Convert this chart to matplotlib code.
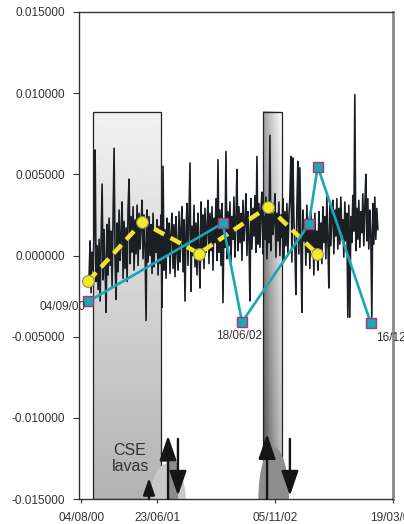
import numpy as np
import pandas as pd
import matplotlib
matplotlib.use('Agg')
import matplotlib.pyplot as plt
import matplotlib.dates as mdates
from matplotlib.patches import Rectangle, Ellipse

plt.rcParams['font.family'] = ['Liberation Sans', 'DejaVu Sans']

# raw signal (units of 1e-3) left to right
noise_start = '2000-09-07'
noise_end = '2004-01-15'
noise_vals = [
    -1.2, 0.9, -2.3, 0.2, -0.9, 1.4, 6.5, -1.6, 0.6, -2.1,
    1.0, -2.8, 0.8, 4.4, -1.5, 1.6, -0.8, -3.5, 1.9, -1.2,
    2.3, -0.6, 1.5, -1.9, 2.6, 6.6, -0.4, -2.7, 2.0, -1.0,
    2.8, -0.3, 1.2, 3.3, -1.4, 2.1, -0.8, 1.7, -1.6, 2.9,
    4.7, -0.5, 2.4, 0.2, 3.0, -0.9, 2.2, 0.1, 3.1, -0.6,
    2.6, 0.4, 1.8, 3.4, -0.2, 2.5, 0.6, -4.0, 2.8, -0.4,
    2.4, 0.0, 1.9, -1.1, 2.6, -0.7, 1.5, 0.2, 2.2, -1.2,
    1.8, -0.5, 2.5, -3.2, 5.5, -0.9, 1.6, -1.4, 2.3, 0.0,
    2.0, -1.1, 1.4, 2.6, -0.8, 1.9, -1.3, 2.4, 0.3, -0.9,
    2.7, -0.4, 1.6, 3.0, -1.0, 2.2, -2.8, 1.5, 3.2, -0.6,
    2.4, 5.7, -2.2, 1.8, 0.0, 3.1, -0.7, 2.0, -1.2, 2.6,
    0.1, -2.0, 3.3, 0.4, 2.5, -0.8, 2.9, 0.2, 1.7, 3.4,
    -0.5, 2.6, 0.3, 3.0, -0.9, 2.3, 0.8, 3.5, -0.3, 5.9,
    0.2, 2.8, -0.6, 3.2, -2.9, 2.1, 0.5, 6.4, -0.2, 2.7,
    0.6, 3.3, -0.4, 2.4, 1.0, 3.6, -0.1, 2.2, 5.3, 0.3,
    3.0, 0.8, 2.6, -0.3, 3.4, 0.9, 2.1, 3.8, 0.0, 2.7,
    1.1, -2.8, 3.5, 0.4, 2.9, 1.2, 3.7, 0.2, 6.1, 0.7,
    3.2, 0.5, 2.8, 3.9, 0.1, 2.4, 1.0, 3.6, -0.2, 2.9,
    0.8, 7.4, 0.3, 3.1, 1.3, 2.2, 3.8, -0.1, 2.6, 0.9,
    3.3, 0.0, 2.5, 1.1, 3.5, -0.3, 2.7, 0.6, 3.2, 0.2,
    2.4, 3.6, 6.1, -0.4, 6.0, 2.2, 0.5, -2.4, 3.0, 5.8,
    0.1, 5.4, 0.6, -3.5, 2.8, 0.9, 2.0, -0.6, 3.1, 0.2,
    2.3, -0.8, 2.9, 0.4, 1.8, -1.2, 2.6, 0.0, 1.5, -0.9,
    2.7, 0.3, 2.0, -0.5, 3.0, 0.8, 2.4, -0.2, 3.6, 1.0,
    -2.0, 3.1, 0.6, 2.5, 3.4, 0.1, 2.8, 1.2, 3.5, 0.4,
    2.9, 0.7, 3.6, 1.3, 2.2, -0.1, 3.3, 0.9, 2.6, -3.8,
    3.1, -3.8, 2.4, 0.8, 3.7, 1.5, 9.9, 0.3, 2.9, 1.0,
    3.4, 0.5, 2.7, 1.4, 3.8, 0.6, 3.0, 5.0, 0.9, 3.5,
    0.4, 2.8, 1.3, -3.8, 3.2, 0.7, 3.6, 1.0, 2.9, 1.6,
]

# survey points (square markers)
survey_dates = ['2000-09-04', '2002-03-28', '2002-06-18', '2003-03-28', '2003-05-05', '2003-12-16']
survey_vals = [-0.00283, 0.00199, -0.0041, 0.00193, 0.00548, -0.00416]
survey_labels = ['04/09/00', '', '18/06/02', '', '', '16/12/03']

# smoothed points (yellow circles)
mean_dates = ['2000-09-04', '2001-04-20', '2001-12-17', '2002-10-06', '2003-05-01']
mean_vals = [-0.00157, 0.00205, 0.00012, 0.0030, 0.00012]

# shaded periods
periods = [('2000-09-24', '2001-07-09'), ('2002-09-15', '2002-12-04')]
period_top = 0.00885

# event arrows
arrow_dates = ['2001-05-19', '2001-08-08', '2001-09-19', '2002-10-02', '2003-01-07']
arrow_tail = [-0.0150, -0.0150, -0.0113, -0.0150, -0.0113]
arrow_head = [-0.0137, -0.0111, -0.0148, -0.0110, -0.0148]

x_ticks = ['2000-08-04', '2001-06-23', '2002-11-05', '2004-03-19']
y_ticks = [-0.015, -0.010, -0.005, 0.0, 0.005, 0.010, 0.015]

d2n = lambda s: mdates.date2num(pd.Timestamp(s))

fig = plt.figure(figsize=(4.04, 5.24), dpi=100)
ax = fig.add_axes([0.1955, 0.0477, 0.777, 0.9294])

# shaded boxes
x0, x1 = d2n(periods[0][0]), d2n(periods[0][1])
grad1 = np.linspace(0.95, 0.70, 200)[:, None]
ax.imshow(grad1, cmap='gray', vmin=0, vmax=1, aspect='auto', origin='upper',
          extent=[x0, x1, -0.015, period_top], zorder=1)
ax.add_patch(Rectangle((x0, -0.015), x1 - x0, period_top + 0.015, fill=False,
                       ec='#222222', lw=0.9, zorder=2))

x0, x1 = d2n(periods[1][0]), d2n(periods[1][1])
u = np.linspace(0, 1, 60)[None, :]
v = np.linspace(0, 1, 200)[:, None]
left = 0.60 - 0.35 * v
right = 0.98 - 0.25 * v
grad2 = left + (right - left) * u ** 0.8
ax.imshow(grad2, cmap='gray', vmin=0, vmax=1, aspect='auto', origin='upper',
          extent=[x0, x1, -0.015, period_top], zorder=1)
ax.add_patch(Rectangle((x0, -0.015), x1 - x0, period_top + 0.015, fill=False,
                       ec='#222222', lw=0.9, zorder=2))

# grey shadows behind arrows
ax.add_patch(Ellipse((d2n('2001-08-08'), -0.015), 150, 0.0044, fc='#c9c9c9', ec='none', zorder=2))
ax.add_patch(Rectangle((d2n('2001-08-08'), -0.015), 42, 0.0023, fc='#8c8c8c', ec='none', zorder=2))
ax.add_patch(Ellipse((d2n('2002-10-30'), -0.015), 130, 0.0064, fc='#8e8e8e', ec='none', zorder=2))

# raw signal
nd = pd.date_range(noise_start, noise_end, periods=len(noise_vals))
ax.plot(nd, np.array(noise_vals) * 1e-3, color='#1b1f23', lw=1.2, zorder=3)

# smoothed
ax.plot(pd.to_datetime(mean_dates), mean_vals, color='#f2e52c', lw=3.2,
        dashes=(2.6, 1.6), zorder=4)
ax.plot(pd.to_datetime(mean_dates), mean_vals, 'o', ms=8.5, mfc='#f5ea2a',
        mec='#8a8a55', mew=0.8, zorder=6)

# survey
sd = pd.to_datetime(survey_dates)
ax.plot(sd, survey_vals, color='#1aa6b7', lw=1.9, zorder=5)
ax.plot(sd, survey_vals, 's', ms=7.3, mfc='#1fa6b6', mec='#b2336e', mew=1.0, zorder=7)

offsets = {0: ((-3, -6), 'right'), 2: ((-3, -14), 'center'), 5: ((5, -15), 'left')}
for i, lab in enumerate(survey_labels):
    if lab:
        (dx, dy), ha = offsets[i]
        ax.annotate(lab, (sd[i], survey_vals[i]), xytext=(dx, dy), textcoords='offset pixels',
                    ha=ha, va='center', fontsize=8.5, color='#333333', annotation_clip=False, zorder=8)

# arrows
for d, t, h in zip(arrow_dates, arrow_tail, arrow_head):
    small = abs(h - t) < 0.002
    ax.annotate('', xy=(d2n(d), h), xytext=(d2n(d), t),
                arrowprops=dict(arrowstyle='-|>,head_length=1.45,head_width=0.5',
                                mutation_scale=7 if small else 10.5, lw=1.7,
                                color='#151515', shrinkA=0, shrinkB=0),
                annotation_clip=False, zorder=9)

ax.text(d2n('2001-02-28'), -0.0125, 'CSE\nlavas', ha='center', va='center',
        fontsize=11.5, color='#333333', linespacing=1.1, zorder=9)

ax.set_xlim(d2n('2000-07-26'), d2n('2004-03-19'))
ax.set_ylim(-0.015, 0.015)
ax.set_xticks([d2n(t) for t in x_ticks])
ax.xaxis.set_major_formatter(mdates.DateFormatter('%d/%m/%y'))
ax.set_yticks(y_ticks)
ax.set_yticklabels(['%.6f' % t for t in y_ticks])
ax.tick_params(axis='y', length=4, pad=6, labelsize=8.5, labelcolor='#333333', color='#333333')
ax.tick_params(axis='x', length=3, pad=6, labelsize=8.5, labelcolor='#333333', color='#333333')

for s in ['left', 'bottom', 'top']:
    ax.spines[s].set_color('#333333')
    ax.spines[s].set_linewidth(1.0)
ax.spines['right'].set_color('#8a8a8a')
ax.spines['right'].set_linewidth(2.0)

plt.savefig('out.png', dpi=100)
plt.close()
